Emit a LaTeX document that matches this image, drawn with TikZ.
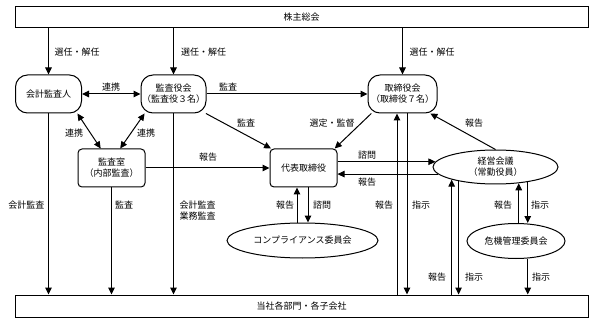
\documentclass[tikz,border=0pt]{standalone}
\usepackage{fontspec}
\setmainfont{Noto Sans CJK JP}
\usepackage{tikz}
\usetikzlibrary{shapes.geometric, arrows.meta, positioning, calc}

\begin{document}
\begin{tikzpicture}[
  x=1pt, y=-1pt,
  every node/.style={font=\fontsize{9}{11}\selectfont, align=center, inner sep=1pt},
  widebox/.style={draw, line width=1pt, minimum width=573pt, minimum height=21pt},
  roundbox/.style={draw, line width=1pt, rounded corners=12pt, minimum width=66pt, minimum height=38pt},
  squarebox/.style={draw, line width=1pt, rounded corners=4pt, minimum width=67pt, minimum height=38pt},
  oval/.style={draw, ellipse, line width=1pt, inner sep=0pt},
  link/.style={line width=1pt, -{Triangle[length=7pt,width=6.5pt]}},
  twoway/.style={line width=1pt, {Triangle[length=7pt,width=6.5pt]}-{Triangle[length=7pt,width=6.5pt]}},
  plain/.style={line width=1pt}
]
\useasboundingbox (0,0) rectangle (594,323);

% boxes
\node[widebox] (soukai) at (301.5,17.5) {株主総会};
\node[widebox, minimum height=22pt] (bumon) at (301.5,306) {当社各部門・各子会社};
\node[roundbox] (kaikei) at (48.5,94) {会計監査人};
\node[roundbox, minimum width=65pt] (kansayaku) at (173.5,94) {監査役会\\（監査役３名）};
\node[roundbox, minimum width=69pt] (torishimari) at (402.5,94) {取締役会\\（取締役７名）};
\node[squarebox] (kansashitsu) at (111.5,168) {監査室\\（内部監査）};
\node[squarebox] (daihyo) at (303.5,168) {代表取締役};
\node[oval, minimum width=125pt, minimum height=34pt] (keiei) at (495.5,167) {経営会議\\（常勤役員）};
\node[oval, minimum width=151pt, minimum height=35pt] (comp) at (302.5,240.5) {コンプライアンス委員会};
\node[oval, minimum width=98pt, minimum height=35pt] (kiki) at (516,241) {危機管理委員会};

% from the general meeting
\draw[link] (soukai.south -| kaikei) -- (kaikei);
\draw[link] (soukai.south -| kansayaku) -- (kansayaku);
\draw[link] (soukai.south -| torishimari) -- (torishimari);
\node at (77,52) {選任・解任};
\node at (203.5,52) {選任・解任};
\node at (432,52) {選任・解任};

% audit side
\draw[twoway] (kaikei) -- (kansayaku);
\node at (111,87) {連携};
\draw[link] (kansayaku) -- (torishimari);
\node at (228,87) {監査};
\draw[twoway] (kaikei.-34) -- (kansashitsu.119);
\node at (74,133) {連携};
\draw[twoway] (kansayaku.-146) -- (kansashitsu.66);
\node at (146,133) {連携};
\draw[link] (kansayaku.-31) -- (daihyo.149);
\node at (246,123) {監査};
\draw[link] (kansashitsu) -- (daihyo);
\node at (208,157) {報告};

% board and executives
\draw[link] (torishimari.-148) -- (daihyo.32);
\node at (332,123) {選定・監督};
\draw[link] (keiei.north) -- (torishimari.-35);
\node at (474,123) {報告};
\draw[link] (keiei.175 -| daihyo.east) -- (keiei.175);
\node at (367,155) {諮問};
\draw[link] (keiei.187) -- (keiei.187 -| daihyo.east);
\node at (367,182) {報告};

% down to the departments
\draw[link] (kaikei) -- (kaikei |- bumon.north);
\node at (26.5,205) {会計監査};
\draw[link] (kansashitsu) -- (kansashitsu |- bumon.north);
\node at (124,205) {監査};
\draw[link] (kansayaku) -- (kansayaku |- bumon.north);
\node at (197.5,210.5) {会計監査\\業務監査};

% compliance committee
\draw[link] (comp.north -| {$(daihyo.south)+(-6.5,0)$}) -- ($(daihyo.south)+(-6.5,0)$);
\node at (285,205) {報告};
\draw[link] ($(daihyo.south)+(4.5,0)$) -- (comp.north -| {$(daihyo.south)+(4.5,0)$});
\node at (322,205) {諮問};

% board <-> departments
\draw[link] (bumon.north -| {$(torishimari.south)+(-5.5,0)$}) -- ($(torishimari.south)+(-5.5,0)$);
\node at (384,205) {報告};
\draw[link] ($(torishimari.south)+(4.5,0)$) -- (bumon.north -| {$(torishimari.south)+(4.5,0)$});
\node at (421,205) {指示};

% executive committee <-> departments
\draw[link] (bumon.north -| keiei.196) -- (keiei.196);
\node at (437,277) {報告};
\draw[link] (keiei.201) -- (bumon.north -| keiei.201);
\node at (474,277) {指示};

% risk committee
\draw[link] (kiki.north -| keiei.-35) -- (keiei.-35);
\node at (503,205) {報告};
\draw[link] (keiei.-25) -- (keiei.-25 |- kiki.north);
\node at (540,205) {指示};
\draw[link] (kiki.south -| keiei.-25) -- (bumon.north -| keiei.-25);
\node at (541,277) {指示};
\end{tikzpicture}
\end{document}
